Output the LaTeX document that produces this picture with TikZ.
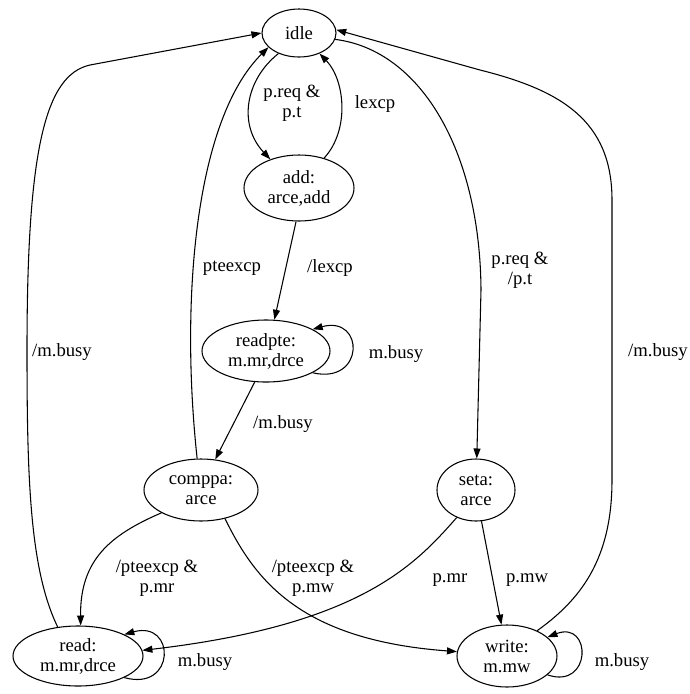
\documentclass[tikz,border=0pt]{standalone}
\usepackage{fontspec}
\setmainfont{Liberation Serif}
\usetikzlibrary{arrows.meta,shapes.geometric}

\begin{document}
\begin{tikzpicture}[x=0.75pt,y=-0.75pt,>={Triangle[length=7.5pt,width=5.25pt]},
	state/.style={draw,ellipse,align=center,line width=0.8pt},
	edge/.style={->,line width=0.8pt},
	lbl/.style={align=center}]
	\tikzstyle{every node}+=[inner sep=0pt,font=\fontsize{14}{15}\selectfont]
	\useasboundingbox (0,0) rectangle (690,694);
	\node[state,minimum width=55.5pt,minimum height=36pt] (idle) at (299,33) {idle};
	\node[state,minimum width=82.5pt,minimum height=49.5pt] (add) at (299,188) {add:\\arce,add};
	\node[state,minimum width=96pt,minimum height=46.5pt] (readpte) at (266,351) {readpte:\\m.mr,drce};
	\node[state,minimum width=85.5pt,minimum height=46.5pt] (comppa) at (201,490) {comppa:\\arce};
	\node[state,minimum width=58.5pt,minimum height=46.5pt] (seta) at (476,490) {seta:\\arce};
	\node[state,minimum width=97.5pt,minimum height=45pt] (read) at (78,656) {read:\\m.mr,drce};
	\node[state,minimum width=75pt,minimum height=46.5pt] (write) at (507,656) {write:\\m.mw};
	\draw[edge] (idle.225) .. controls (245,80) and (238,125) .. (add.135);
	\node[lbl] (l1) at (292,103) {p.req \&\\p.t};
	\draw[edge] (add.50) .. controls (350,130) and (345,80) .. (idle.315);
	\node[lbl] (l2) at (375,104) {lexcp};
	\draw[edge] (idle.350) .. controls (420,50) and (480,150) .. (481,290) -- (seta);
	\node[lbl] (l3) at (520,270) {p.req \&\\/p.t};
	\draw[edge] (add.265) -- (readpte.75);
	\node[lbl] (l4) at (330,268) {/lexcp};
	\draw[edge] (readpte.-25) .. controls (365,385) and (365,315) .. (readpte.25);
	\node[lbl] (l5) at (396,354) {m.busy};
	\draw[edge] (readpte.250) -- (comppa.65);
	\node[lbl] (l6) at (283,424) {/m.busy};
	\draw[edge] (comppa.97) .. controls (180,300) and (195,120) .. (idle.205);
	\node[lbl] (l7) at (232,268) {pteexcp};
	\draw[edge] (comppa.210) .. controls (110,535) and (80,560) .. (read.85);
	\node[lbl] (l8) at (157,578) {/pteexcp \&\\p.mr};
	\draw[edge] (comppa.310) .. controls (255,580) and (300,640) .. (write.175);
	\node[lbl] (l9) at (313,578) {/pteexcp \&\\p.mw};
	\draw[edge] (seta.235) .. controls (415,565) and (360,625) .. (read.5);
	\node[lbl] (l10) at (450,580) {p.mr};
	\draw[edge] (seta.280) -- (write.100);
	\node[lbl] (l11) at (527,580) {p.mw};
	\draw[edge] (read.125) .. controls (30,570) and (27,480) .. (27,350)
		.. controls (27,150) and (45,75) .. (90,65) -- (idle.180);
	\node[lbl] (l12) at (62,352) {/m.busy};
	\draw[edge] (write.40) .. controls (580,600) and (612,560) .. (612,480) -- (612,200)
		.. controls (612,120) and (560,90) .. (480,70) -- (idle.5);
	\node[lbl] (l13) at (658,352) {/m.busy};
	\draw[edge] (read.-25) .. controls (176,692) and (176,620) .. (read.25);
	\node[lbl] (l14) at (205,662) {m.busy};
	\draw[edge] (write.-25) .. controls (592,690) and (592,620) .. (write.25);
	\node[lbl] (l15) at (622,662) {m.busy};
\end{tikzpicture}
\end{document}
